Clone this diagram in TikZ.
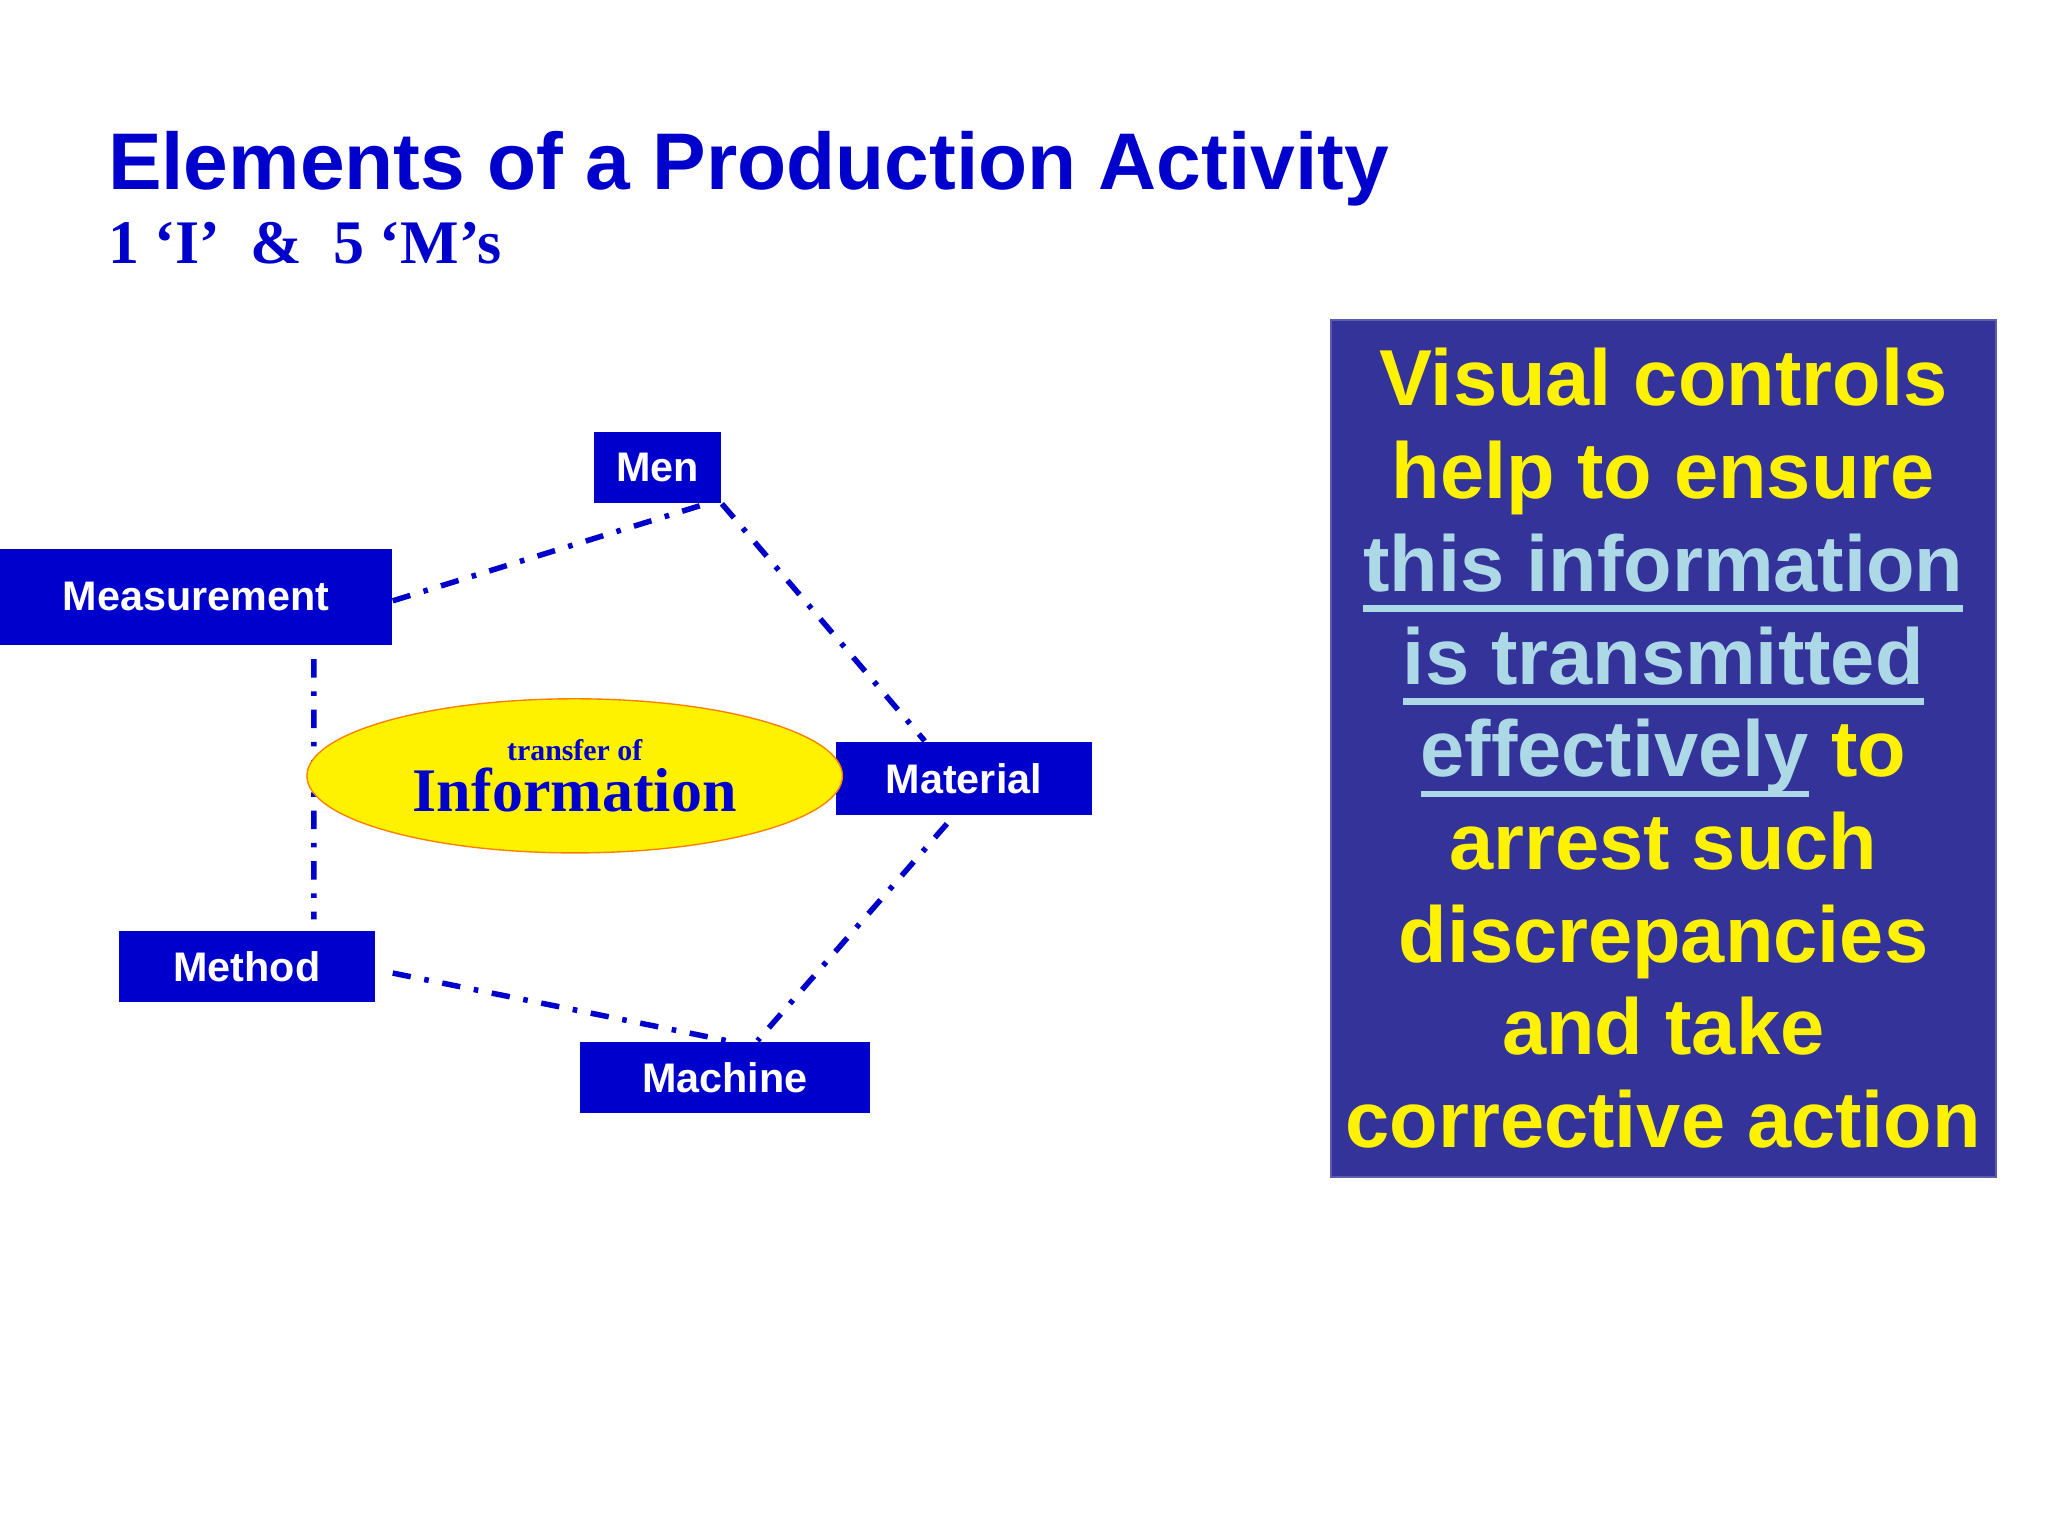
\documentclass[tikz,border=0pt]{standalone}
\usepackage{fontspec}
\setmainfont{Liberation Serif}
\setsansfont{Liberation Sans}
\usetikzlibrary{shapes.geometric}
\definecolor{deepblue}{RGB}{0,0,204}
\definecolor{navy}{RGB}{51,51,153}
\definecolor{lightcyan}{RGB}{173,216,230}
\newcommand\ulin[1]{\setbox0\hbox{#1}\rlap{\rule[-4.5pt]{\wd0}{1.5pt}}\box0}
\tikzset{
  mbox/.style={fill=deepblue, text=white, inner sep=0pt, font=\sffamily\bfseries\fontsize{9}{10}\selectfont},
  link/.style={deepblue, line width=1.2pt, dash pattern=on 4pt off 3pt on 1pt off 3pt},
  infobubble/.style={ellipse, fill=yellow, draw=orange, line width=0.3pt, minimum width=41mm, minimum height=11.8mm, inner sep=0pt, align=center, text=deepblue}
}
\begin{document}
\begin{tikzpicture}[x=0.1mm, y=-0.1mm]
    \useasboundingbox[fill=white] (0,0) rectangle (1568,1176);
    % Titulo
    \node[anchor=base west, inner sep=0pt, text=deepblue, font=\sffamily\bfseries\fontsize{17.5}{20}\selectfont] (title) at (82,145) {Elements of a Production Activity};
    \node[anchor=base west, inner sep=0pt, text=deepblue, font=\bfseries\fontsize{13.5}{16}\selectfont] (sub) at (82,202) {1 ‘I’ ~\& ~5 ‘M’s};
    % Las 5 M
    \node[mbox, minimum width=9.7mm, minimum height=5.4mm] (men) at (503.5,358) {Men};
    \node[mbox, minimum width=30mm, minimum height=7.4mm] (meas) at (150,457) {Measurement};
    \node[mbox, minimum width=19.6mm, minimum height=5.6mm] (mat) at (738,596) {Material};
    \node[mbox, minimum width=19.6mm, minimum height=5.5mm] (meth) at (189,740) {Method};
    \node[mbox, minimum width=22.2mm, minimum height=5.5mm] (mach) at (555,825) {Machine};
    % Enlaces
    \draw[link] ([yshift=-0.3mm]meas.east) -- ([xshift=-1.2mm]men.south east);
    \draw[link] (men.south east) -- ([xshift=-3mm]mat.north);
    \draw[link] ([xshift=-1.3mm,yshift=-0.6mm]mat.south) -- ([xshift=2.5mm]mach.north);
    \draw[link] ([xshift=1.3mm,yshift=-0.5mm]meth.east) -- ([xshift=-11mm]mach.north east);
    \draw[link] ([xshift=24.1mm,yshift=-1mm]meas.south west) -- ([xshift=15mm,yshift=0.8mm]meth.north west);
    % Informacion
    \node[infobubble] (info) at (440,594)
        {{\bfseries\fontsize{6.5}{8}\selectfont transfer of}\\[-1pt]{\bfseries\fontsize{13.5}{16}\selectfont Information}};
    % Recuadro de texto
    \node[fill=navy, draw=navy!80, minimum width=50.9mm, minimum height=65.6mm, inner sep=0pt, text=yellow, align=center, font=\sffamily\bfseries\fontsize{17.3}{20.2}\selectfont] (note) at (1273.5,573)
        {Visual controls\\help to ensure\\\textcolor{lightcyan}{\ulin{this information}}\\\textcolor{lightcyan}{\ulin{is transmitted}}\\\textcolor{lightcyan}{\ulin{effectively}} to\\arrest such\\discrepancies\\and take\\corrective action};
\end{tikzpicture}
\end{document}
